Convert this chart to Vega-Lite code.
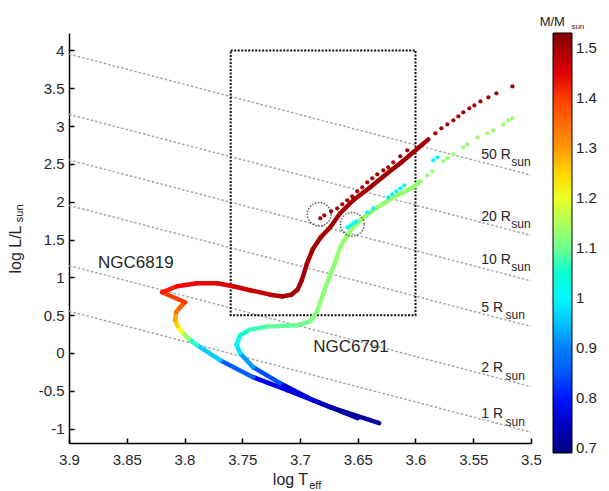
{
  "$schema": "https://vega.github.io/schema/vega-lite/v6.json",
  "width": 462,
  "height": 410,
  "autosize": "none",
  "padding": {"left": 69, "top": 33, "right": 78, "bottom": 48},
  "config": {"view": {"stroke": null}, "font": "Liberation Sans"},
  "resolve": {"legend": {"color": "independent"}},
  "datasets": {
    "radius": [
      {"R": "1", "T": 3.9, "L": 0.553}, {"R": "1", "T": 3.5, "L": -1.047},
      {"R": "2", "T": 3.9, "L": 1.155}, {"R": "2", "T": 3.5, "L": -0.445},
      {"R": "5", "T": 3.9, "L": 1.951}, {"R": "5", "T": 3.5, "L": 0.351},
      {"R": "10", "T": 3.9, "L": 2.553}, {"R": "10", "T": 3.5, "L": 0.953},
      {"R": "20", "T": 3.9, "L": 3.155}, {"R": "20", "T": 3.5, "L": 1.555},
      {"R": "50", "T": 3.9, "L": 3.951}, {"R": "50", "T": 3.5, "L": 2.351}
    ],
    "tracks": [
      {"track": "6819", "i": 0, "T": 3.650, "L": -0.861, "M": 0.72},
      {"track": "6819", "i": 1, "T": 3.6825, "L": -0.663, "M": 0.75},
      {"track": "6819", "i": 2, "T": 3.711, "L": -0.491, "M": 0.79},
      {"track": "6819", "i": 3, "T": 3.7406, "L": -0.320, "M": 0.86},
      {"track": "6819", "i": 4, "T": 3.7692, "L": -0.095, "M": 0.96},
      {"track": "6819", "i": 5, "T": 3.7891, "L": 0.103, "M": 1.06},
      {"track": "6819", "i": 6, "T": 3.7965, "L": 0.190, "M": 1.13},
      {"track": "6819", "i": 7, "T": 3.8021, "L": 0.275, "M": 1.20},
      {"track": "6819", "i": 8, "T": 3.8060, "L": 0.355, "M": 1.25},
      {"track": "6819", "i": 9, "T": 3.8081, "L": 0.433, "M": 1.29},
      {"track": "6819", "i": 10, "T": 3.8073, "L": 0.539, "M": 1.34},
      {"track": "6819", "i": 11, "T": 3.8038, "L": 0.605, "M": 1.37},
      {"track": "6819", "i": 12, "T": 3.7995, "L": 0.671, "M": 1.40},
      {"track": "6819", "i": 13, "T": 3.8194, "L": 0.803, "M": 1.42},
      {"track": "6819", "i": 14, "T": 3.8064, "L": 0.882, "M": 1.43},
      {"track": "6819", "i": 15, "T": 3.7891, "L": 0.922, "M": 1.44},
      {"track": "6819", "i": 16, "T": 3.7718, "L": 0.922, "M": 1.45},
      {"track": "6819", "i": 17, "T": 3.7579, "L": 0.882, "M": 1.46},
      {"track": "6819", "i": 18, "T": 3.7432, "L": 0.830, "M": 1.47},
      {"track": "6819", "i": 19, "T": 3.7258, "L": 0.771, "M": 1.48},
      {"track": "6819", "i": 20, "T": 3.7150, "L": 0.748, "M": 1.49},
      {"track": "6819", "i": 21, "T": 3.7075, "L": 0.770, "M": 1.50},
      {"track": "6819", "i": 22, "T": 3.7020, "L": 0.840, "M": 1.50},
      {"track": "6819", "i": 23, "T": 3.6985, "L": 0.960, "M": 1.50},
      {"track": "6819", "i": 24, "T": 3.6940, "L": 1.180, "M": 1.50},
      {"track": "6819", "i": 25, "T": 3.6890, "L": 1.370, "M": 1.50},
      {"track": "6819", "i": 26, "T": 3.6820, "L": 1.530, "M": 1.50},
      {"track": "6819", "i": 27, "T": 3.6738, "L": 1.662, "M": 1.50},
      {"track": "6819", "i": 28, "T": 3.6652, "L": 1.847, "M": 1.50},
      {"track": "6819", "i": 29, "T": 3.6539, "L": 2.019, "M": 1.50},
      {"track": "6819", "i": 30, "T": 3.6392, "L": 2.190, "M": 1.50},
      {"track": "6819", "i": 31, "T": 3.6244, "L": 2.375, "M": 1.50},
      {"track": "6819", "i": 32, "T": 3.6132, "L": 2.507, "M": 1.50},
      {"track": "6819", "i": 33, "T": 3.6019, "L": 2.653, "M": 1.50},
      {"track": "6819", "i": 34, "T": 3.5889, "L": 2.824, "M": 1.50},
      {"track": "6791", "i": 0, "T": 3.6314, "L": -0.927, "M": 0.72},
      {"track": "6791", "i": 1, "T": 3.6738, "L": -0.716, "M": 0.75},
      {"track": "6791", "i": 2, "T": 3.6886, "L": -0.624, "M": 0.77},
      {"track": "6791", "i": 3, "T": 3.7172, "L": -0.399, "M": 0.84},
      {"track": "6791", "i": 4, "T": 3.7406, "L": -0.188, "M": 0.92},
      {"track": "6791", "i": 5, "T": 3.7518, "L": -0.003, "M": 0.98},
      {"track": "6791", "i": 6, "T": 3.7550, "L": 0.110, "M": 1.02},
      {"track": "6791", "i": 7, "T": 3.7520, "L": 0.230, "M": 1.05},
      {"track": "6791", "i": 8, "T": 3.7440, "L": 0.305, "M": 1.07},
      {"track": "6791", "i": 9, "T": 3.7284, "L": 0.350, "M": 1.09},
      {"track": "6791", "i": 10, "T": 3.7024, "L": 0.365, "M": 1.10},
      {"track": "6791", "i": 11, "T": 3.6910, "L": 0.420, "M": 1.11},
      {"track": "6791", "i": 12, "T": 3.6850, "L": 0.560, "M": 1.12},
      {"track": "6791", "i": 13, "T": 3.6800, "L": 0.780, "M": 1.12},
      {"track": "6791", "i": 14, "T": 3.6745, "L": 1.010, "M": 1.12},
      {"track": "6791", "i": 15, "T": 3.6700, "L": 1.180, "M": 1.13},
      {"track": "6791", "i": 16, "T": 3.6652, "L": 1.398, "M": 1.13},
      {"track": "6791", "i": 17, "T": 3.6565, "L": 1.622, "M": 1.13},
      {"track": "6791", "i": 18, "T": 3.6478, "L": 1.754, "M": 1.13},
      {"track": "6791", "i": 19, "T": 3.6331, "L": 1.926, "M": 1.13},
      {"track": "6791", "i": 20, "T": 3.6192, "L": 2.058, "M": 1.13},
      {"track": "6791", "i": 21, "T": 3.6019, "L": 2.190, "M": 1.13},
      {"track": "6791", "i": 22, "T": 3.5958, "L": 2.270, "M": 1.13}
    ],
    "dots": [
      {"T": 3.5828, "L": 2.904, "M": 1.5}, {"T": 3.5776, "L": 2.970, "M": 1.5},
      {"T": 3.5724, "L": 3.022, "M": 1.5}, {"T": 3.5672, "L": 3.075, "M": 1.5},
      {"T": 3.5629, "L": 3.128, "M": 1.5}, {"T": 3.5586, "L": 3.181, "M": 1.5},
      {"T": 3.5534, "L": 3.234, "M": 1.5}, {"T": 3.5490, "L": 3.273, "M": 1.5},
      {"T": 3.5438, "L": 3.326, "M": 1.5}, {"T": 3.5369, "L": 3.379, "M": 1.5},
      {"T": 3.5300, "L": 3.432, "M": 1.5}, {"T": 3.5161, "L": 3.524, "M": 1.5},
      {"T": 3.6825, "L": 1.781, "M": 1.5}, {"T": 3.6790, "L": 1.820, "M": 1.5},
      {"T": 3.6730, "L": 1.873, "M": 1.5}, {"T": 3.6678, "L": 1.913, "M": 1.5},
      {"T": 3.6634, "L": 1.966, "M": 1.5}, {"T": 3.6591, "L": 2.018, "M": 1.5},
      {"T": 3.6548, "L": 2.071, "M": 1.5}, {"T": 3.6504, "L": 2.137, "M": 1.5},
      {"T": 3.6461, "L": 2.190, "M": 1.5}, {"T": 3.6418, "L": 2.256, "M": 1.5},
      {"T": 3.6374, "L": 2.309, "M": 1.5}, {"T": 3.6331, "L": 2.362, "M": 1.5},
      {"T": 3.6279, "L": 2.415, "M": 1.5}, {"T": 3.6236, "L": 2.454, "M": 1.5},
      {"T": 3.6192, "L": 2.520, "M": 1.5}, {"T": 3.6132, "L": 2.600, "M": 1.5},
      {"T": 3.6071, "L": 2.679, "M": 1.5},
      {"T": 3.5898, "L": 2.349, "M": 1.13}, {"T": 3.5854, "L": 2.402, "M": 1.13},
      {"T": 3.5759, "L": 2.534, "M": 1.13}, {"T": 3.5724, "L": 2.573, "M": 1.13},
      {"T": 3.5672, "L": 2.626, "M": 1.13}, {"T": 3.5586, "L": 2.719, "M": 1.13},
      {"T": 3.5551, "L": 2.758, "M": 1.13}, {"T": 3.5464, "L": 2.851, "M": 1.13},
      {"T": 3.5378, "L": 2.904, "M": 1.13}, {"T": 3.5326, "L": 2.943, "M": 1.13},
      {"T": 3.5239, "L": 3.022, "M": 1.13}, {"T": 3.5196, "L": 3.075, "M": 1.13},
      {"T": 3.5161, "L": 3.102, "M": 1.13},
      {"T": 3.6591, "L": 1.662, "M": 1.0}, {"T": 3.6565, "L": 1.688, "M": 1.0},
      {"T": 3.6539, "L": 1.715, "M": 1.0}, {"T": 3.6513, "L": 1.741, "M": 1.0},
      {"T": 3.6418, "L": 1.860, "M": 1.0}, {"T": 3.6366, "L": 1.913, "M": 1.0},
      {"T": 3.6236, "L": 2.058, "M": 1.0}, {"T": 3.6201, "L": 2.098, "M": 1.0},
      {"T": 3.6166, "L": 2.137, "M": 1.0}, {"T": 3.6132, "L": 2.177, "M": 1.0},
      {"T": 3.6097, "L": 2.217, "M": 1.0}, {"T": 3.5846, "L": 2.547, "M": 1.0},
      {"T": 3.5811, "L": 2.587, "M": 1.0}
    ],
    "circles": [
      {"T": 3.6834, "L": 1.834}, {"T": 3.6548, "L": 1.701}
    ],
    "box": [{"T": 3.76, "T2": 3.6, "L": 0.5, "L2": 4.0}],
    "clusters": [
      {"T": 3.8749, "L": 1.120, "name": "NGC6819"},
      {"T": 3.6886, "L": 0.011, "name": "NGC6791"}
    ],
    "rlabels": [
      {"T": 3.543, "L": 2.560, "label": "50 R"},
      {"T": 3.543, "L": 1.741, "label": "20 R"},
      {"T": 3.543, "L": 1.173, "label": "10 R"},
      {"T": 3.543, "L": 0.539, "label": "5 R"},
      {"T": 3.543, "L": -0.254, "label": "2 R"},
      {"T": 3.543, "L": -0.861, "label": "1 R"}
    ],
    "rsubs": [
      {"T": 3.517, "L": 2.468, "label": "sun"},
      {"T": 3.517, "L": 1.649, "label": "sun"},
      {"T": 3.517, "L": 1.081, "label": "sun"},
      {"T": 3.522, "L": 0.447, "label": "sun"},
      {"T": 3.522, "L": -0.359, "label": "sun"},
      {"T": 3.522, "L": -0.967, "label": "sun"}
    ]
  },
  "encoding": {
    "x": {
      "field": "T", "type": "quantitative",
      "scale": {"domain": [3.5, 3.9], "reverse": true, "nice": false, "zero": false},
      "axis": {
        "values": [3.9, 3.85, 3.8, 3.75, 3.7, 3.65, 3.6, 3.55, 3.5],
        "labelExpr": "'' + datum.value",
        "title": "log T", "titleX": 221, "titleY": 41, "titleBaseline": "alphabetic", "titleAlign": "center",
        "titleFontSize": 16, "titleFontWeight": "normal", "titleColor": "#262626",
        "grid": false, "domainColor": "#000", "domainWidth": 1.5,
        "ticks": true, "tickColor": "#000", "tickSize": -5, "tickWidth": 1.5,
        "labelPadding": 14, "labelFontSize": 15, "labelColor": "#262626",
        "labelFlush": false, "labelOverlap": false
      }
    },
    "y": {
      "field": "L", "type": "quantitative",
      "scale": {"domain": [-1.19, 4.23], "nice": false, "zero": false},
      "axis": {
        "values": [-1, -0.5, 0, 0.5, 1, 1.5, 2, 2.5, 3, 3.5, 4],
        "labelExpr": "'' + datum.value",
        "title": "log L/L", "titleX": -49, "titleY": 216, "titleBaseline": "alphabetic", "titleAlign": "center", "titleAngle": 270,
        "titleFontSize": 16, "titleFontWeight": "normal", "titleColor": "#262626",
        "grid": false, "domainColor": "#000", "domainWidth": 1.5,
        "ticks": true, "tickColor": "#000", "tickSize": -5, "tickWidth": 1.5,
        "labelPadding": 10, "labelFontSize": 15, "labelColor": "#262626",
        "labelFlush": false, "labelOverlap": false
      }
    }
  },
  "layer": [
    {
      "data": {"name": "radius"},
      "mark": {"type": "line", "color": "#a6a6a6", "strokeWidth": 1.5, "strokeDash": [2.5, 2]},
      "encoding": {"detail": {"field": "R"}}
    },
    {
      "data": {"name": "box"},
      "mark": {"type": "rect", "filled": false, "stroke": "#111", "strokeWidth": 2, "strokeDash": [2, 1.5]},
      "encoding": {"x2": {"field": "T2"}, "y2": {"field": "L2"}}
    },
    {
      "data": {"name": "tracks"},
      "transform": [
        {"window": [{"op": "lead", "field": "T", "as": "T2"}, {"op": "lead", "field": "L", "as": "L2"}],
         "sort": [{"field": "i", "order": "ascending"}], "groupby": ["track"]},
        {"filter": "isValid(datum.T2)"}
      ],
      "mark": {"type": "rule", "strokeWidth": 4.5, "strokeCap": "round"},
      "encoding": {
        "x2": {"field": "T2"}, "y2": {"field": "L2"},
        "color": {
          "field": "M", "type": "quantitative",
          "scale": {"domain": [0.69, 1.53], "range": ["#000080", "#0000ff", "#0080ff", "#00ffff", "#80ff80", "#ffff00", "#ff8000", "#ff0000", "#800000"]},
          "legend": {
            "type": "gradient",
            "orient": "none", "legendX": 484, "legendY": 0, "title": null, "direction": "vertical",
            "gradientLength": 420, "gradientThickness": 19, "gradientStrokeColor": "#000", "gradientStrokeWidth": 1,
            "values": [0.7, 0.8, 0.9, 1, 1.1, 1.2, 1.3, 1.4, 1.5],
            "labelExpr": "'' + datum.value", "labelFontSize": 15, "labelColor": "#262626", "labelOffset": 4
          }
        }
      }
    },
    {
      "data": {"name": "dots"},
      "mark": {"type": "circle", "size": 18, "opacity": 1},
      "encoding": {
        "color": {
          "field": "M", "type": "quantitative",
          "scale": {"domain": [0.69, 1.53], "range": ["#000080", "#0000ff", "#0080ff", "#00ffff", "#80ff80", "#ffff00", "#ff8000", "#ff0000", "#800000"]},
          "legend": null
        }
      }
    },
    {
      "data": {"name": "circles"},
      "mark": {"type": "point", "shape": "circle", "filled": false, "stroke": "#222", "strokeWidth": 1.5, "strokeDash": [1.5, 1.5], "size": 560}
    },
    {
      "data": {"name": "clusters"},
      "mark": {"type": "text", "align": "left", "baseline": "alphabetic", "fontSize": 17, "color": "#262626"},
      "encoding": {"text": {"field": "name"}}
    },
    {
      "data": {"name": "rlabels"},
      "mark": {"type": "text", "align": "left", "baseline": "alphabetic", "fontSize": 14, "color": "#262626"},
      "encoding": {"text": {"field": "label"}}
    },
    {
      "data": {"name": "rsubs"},
      "mark": {"type": "text", "align": "left", "baseline": "alphabetic", "fontSize": 12, "color": "#262626"},
      "encoding": {"text": {"field": "label"}}
    },
    {
      "data": {"values": [{"T": 3.9399, "L": 1.847, "label": "sun"}]},
      "mark": {"type": "text", "align": "center", "baseline": "alphabetic", "angle": 270, "fontSize": 11, "color": "#262626"},
      "encoding": {"text": {"field": "label"}}
    },
    {
      "data": {"values": [{"T": 3.692, "L": -1.799, "label": "eff"}]},
      "mark": {"type": "text", "align": "left", "baseline": "alphabetic", "fontSize": 11, "color": "#262626"},
      "encoding": {"text": {"field": "label"}}
    },
    {
      "data": {"values": [{"T": 3.4925, "L": 4.317, "label": "M/M"}]},
      "mark": {"type": "text", "align": "left", "baseline": "alphabetic", "fontSize": 13, "color": "#262626"},
      "encoding": {"text": {"field": "label"}}
    },
    {
      "data": {"values": [{"T": 3.4650, "L": 4.277, "label": "sun"}]},
      "mark": {"type": "text", "align": "left", "baseline": "alphabetic", "fontSize": 8, "color": "#262626"},
      "encoding": {"text": {"field": "label"}}
    }
  ]
}
